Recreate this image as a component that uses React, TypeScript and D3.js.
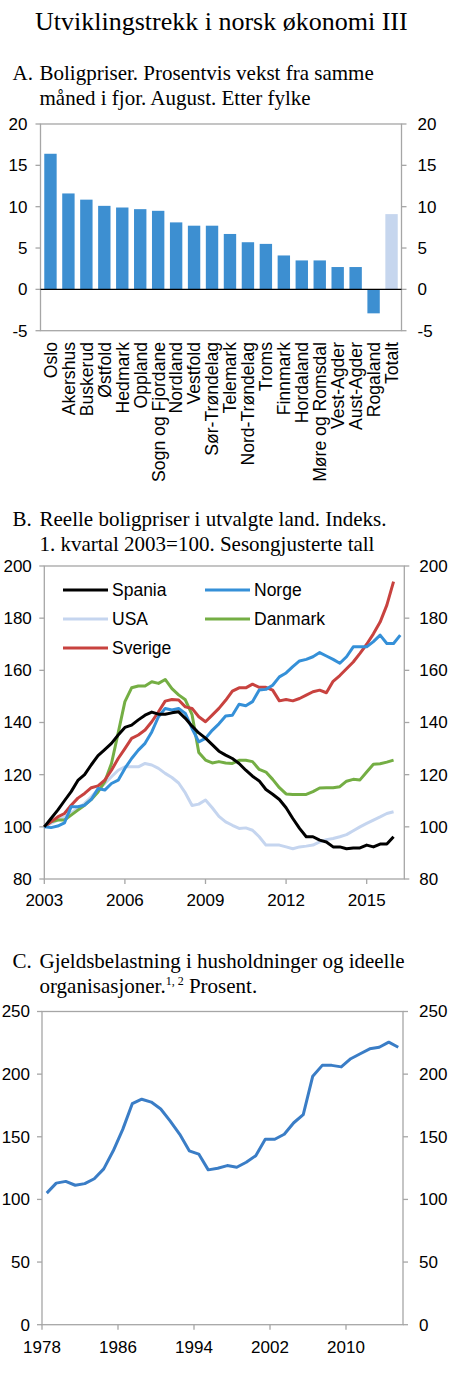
import * as d3 from "d3";

// Panel A: house price growth by county, August
const counties = [
  "Oslo", "Akershus", "Buskerud", "Østfold", "Hedmark", "Oppland", "Sogn og Fjordane",
  "Nordland", "Vestfold", "Sør-Trøndelag", "Telemark", "Nord-Trøndelag", "Troms",
  "Finnmark", "Hordaland", "Møre og Romsdal", "Vest-Agder", "Aust-Agder", "Rogaland", "Totalt",
];
const growth = [16.4, 11.6, 10.85, 10.1, 9.9, 9.7, 9.5, 8.1, 7.7, 7.7, 6.7, 5.7, 5.5, 4.1, 3.5, 3.5, 2.7, 2.7, -2.9, 9.1];
const ticksA = [-5, 0, 5, 10, 15, 20];

// Panel B: real house prices, quarterly from 2003Q1
const spania = [
  100, 103.2, 106.4, 110, 113.5, 117.8, 120, 123.8, 127.3, 129.6, 132, 135.2, 138.1, 139, 141, 142.8,
  144, 143.2, 143.2, 143.7, 144.1, 141.6, 138.6, 136, 134, 131.5, 129, 127.5, 126.2, 124.3, 121.7, 119.4,
  117.6, 114.3, 112.5, 110.5, 107.3, 103.2, 99.4, 96.2, 96.2, 94.9, 94.2, 92.3, 92.3, 91.6, 91.9, 91.9,
  93, 92.3, 93.4, 93.4, 96.2,
];
const norge = [
  100, 99.7, 100.3, 101.5, 107.7, 107.7, 108.3, 110.5, 114.7, 114.1, 116.6, 117.9, 122.4, 126.2, 129.4, 132,
  136.4, 142.2, 145.4, 144.8, 145.4, 143.5, 137.7, 132.6, 133.9, 137, 139.5, 142.5, 142.8, 147, 146.4, 148,
  152.5, 152.7, 154.3, 157.5, 159, 161.4, 163.6, 164.2, 165.2, 166.8, 165.5, 164.2, 162.7, 165.2, 169, 169,
  169, 171, 173.5, 170.3, 170.3, 173.5,
];
const usa = [
  100, 101.3, 102.6, 103.8, 105.3, 107, 109, 111.5, 114.3, 116.6, 119.2, 121.7, 123, 123, 123, 124.3,
  123.7, 122.4, 120.5, 118.9, 116.8, 113, 108.2, 108.7, 110.3, 107.3, 104, 101.9, 100.6, 99.4, 99.6, 98.7,
  96.2, 93, 93, 93, 92.3, 91.6, 92.3, 92.6, 93, 94.2, 95.1, 95.5, 96.2, 97, 98.5, 100,
  101.3, 102.6, 103.8, 105.1, 105.8,
];
const danmark = [
  100, 101.9, 102.6, 102.6, 104.5, 106.4, 108.3, 110.5, 113.4, 117.3, 124.3, 136, 148, 153.3, 154, 154,
  155.6, 155, 156.5, 153, 150.6, 148.7, 143, 128.5, 125.6, 124.5, 125, 124.5, 124.3, 125.5, 125.5, 125,
  122, 121, 118.2, 115, 112.6, 112.4, 112.4, 112.4, 113.5, 114.9, 115, 115, 115.4, 117.5, 118.2, 118,
  121, 124, 124.2, 124.8, 125.6,
];
const sverige = [
  100, 101.9, 103.8, 105.1, 108.3, 111, 112.8, 115, 115.7, 117.9, 121.7, 126.2, 130, 133.9, 135.2, 137.1,
  140.3, 144.1, 148.2, 148.8, 148.6, 146, 145.4, 142.2, 140.3, 142.8, 145.4, 148.5, 152, 153.3, 153.3, 154.7,
  153.5, 153.5, 152.4, 148.3, 148.8, 148.3, 149.2, 150.5, 151.8, 152.4, 151.4, 155.8, 158, 160.6, 163.2, 166.5,
  170, 174, 178.5, 185, 194,
];
const ticksB = [80, 100, 120, 140, 160, 180, 200];
const yearsB = [2003, 2006, 2009, 2012, 2015];

// Panel C: debt burden, annual from 1978
const debt = [
  105, 113, 114.4, 111.3, 112.6, 116.5, 124.4, 138.8, 155.9, 176.4, 180, 177.7, 172.2, 162.5, 152, 138.8,
  136.2, 123.6, 124.9, 127, 125.7, 129.7, 134.9, 148, 148, 152, 161.2, 167.7, 198.4, 207, 207, 205.8,
  212.3, 216.3, 220.2, 221.5, 225.5, 221.5,
];
const ticksC = [0, 50, 100, 150, 200, 250];
const yearsC = [1978, 1986, 1994, 2002, 2010];

const SANS = "'Liberation Sans', Arial, Helvetica, sans-serif";
const SERIF = "'Liberation Serif', 'Times New Roman', serif";
const AXIS = "#a6a6a6";

type Scale = d3.ScaleLinear<number, number>;

function Frame({ x0, x1, y, ticks, leftGap, rightGap }: { x0: number; x1: number; y: Scale; ticks: number[]; leftGap: number; rightGap: number }) {
  const [yb, yt] = y.range();
  return (
    <g>
      <rect x={x0} y={yt} width={x1 - x0} height={yb - yt} fill="none" stroke={AXIS} strokeWidth={1.3} />
      {ticks.map((t) => (
        <g key={t}>
          <line x1={x0 - 5} x2={x0} y1={y(t)} y2={y(t)} stroke={AXIS} strokeWidth={1.3} />
          <line x1={x1} x2={x1 + 5} y1={y(t)} y2={y(t)} stroke={AXIS} strokeWidth={1.3} />
          <text x={x0 - leftGap} y={y(t)} dy="0.35em" textAnchor="end" fontSize={17} fontFamily={SANS}>{t}</text>
          <text x={x1 + rightGap} y={y(t)} dy="0.35em" textAnchor="start" fontSize={17} fontFamily={SANS}>{t}</text>
        </g>
      ))}
    </g>
  );
}

function Heading({ letter, lines, y }: { letter: string; lines: React.ReactNode[]; y: number }) {
  return (
    <g fontFamily={SERIF} fontSize={21}>
      <text x={12.5} y={y}>{letter}</text>
      {lines.map((l, i) => (
        <text key={i} x={39.5} y={y + i * 24.5}>{l}</text>
      ))}
    </g>
  );
}

function PanelA() {
  const x0 = 40.5, x1 = 401.5;
  const x = d3.scaleBand<string>().domain(counties).range([x0, x1]).paddingInner(0.31).paddingOuter(0.21);
  const y = d3.scaleLinear().domain([-5, 20]).range([330.7, 124]);
  return (
    <g>
      {counties.map((c, i) => {
        const v = growth[i];
        return (
          <rect key={c} x={x(c)} width={x.bandwidth()} y={y(Math.max(0, v))} height={Math.abs(y(v) - y(0))}
            fill={c === "Totalt" ? "#c6d6ee" : "#3d8fd1"} />
        );
      })}
      <Frame x0={x0} x1={x1} y={y} ticks={ticksA} leftGap={13} rightGap={16} />
      <line x1={x0} x2={x1} y1={y(0)} y2={y(0)} stroke="#000" strokeWidth={1.3} />
      {counties.map((c) => (
        <text key={c} transform={`translate(${(x(c) ?? 0) + x.bandwidth() / 2},342) rotate(-90)`} dy="0.36em"
          textAnchor="end" fontSize={17.6} fontFamily={SANS}>{c}</text>
      ))}
    </g>
  );
}

const seriesB = [
  { name: "Spania", values: spania, color: "#000000", col: 0, row: 0 },
  { name: "Norge", values: norge, color: "#3590d8", col: 1, row: 0 },
  { name: "USA", values: usa, color: "#c5d5ef", col: 0, row: 1 },
  { name: "Danmark", values: danmark, color: "#74ae44", col: 1, row: 1 },
  { name: "Sverige", values: sverige, color: "#c8423f", col: 0, row: 2 },
];

function PanelB() {
  const x0 = 44.3, x1 = 404.3;
  const x = d3.scaleLinear().domain([2003, 2016.4]).range([x0, x1]);
  const y = d3.scaleLinear().domain([80, 200]).range([879, 566]);
  const line = d3.line<number>().x((_, i) => x(2003 + i / 4)).y((v) => y(v));
  const drawOrder = ["USA", "Danmark", "Sverige", "Norge", "Spania"];
  return (
    <g>
      <Frame x0={x0} x1={x1} y={y} ticks={ticksB} leftGap={12.5} rightGap={15} />
      {yearsB.map((t) => (
        <g key={t}>
          <line x1={x(t)} x2={x(t)} y1={879} y2={884} stroke={AXIS} strokeWidth={1.3} />
          <text x={x(t)} y={906} textAnchor="middle" fontSize={17} fontFamily={SANS}>{t}</text>
        </g>
      ))}
      {drawOrder.map((n) => {
        const s = seriesB.find((d) => d.name === n)!;
        return <path key={n} d={line(s.values) ?? ""} fill="none" stroke={s.color} strokeWidth={3} strokeLinejoin="round" />;
      })}
      {seriesB.map((s) => {
        const lx = s.col === 0 ? 63 : 205;
        const ly = 590 + s.row * 29;
        return (
          <g key={s.name}>
            <line x1={lx} x2={lx + 45} y1={ly} y2={ly} stroke={s.color} strokeWidth={3} />
            <text x={lx + 49} y={ly} dy="0.35em" fontSize={17.5} fontFamily={SANS}>{s.name}</text>
          </g>
        );
      })}
    </g>
  );
}

function PanelC() {
  const x0 = 42, x1 = 403;
  const x = d3.scaleLinear().domain([1978, 2016]).range([x0, x1]);
  const y = d3.scaleLinear().domain([0, 250]).range([1324.7, 1011.5]);
  const line = d3.line<number>().x((_, i) => x(1978 + i + 0.5)).y((v) => y(v));
  return (
    <g>
      <Frame x0={x0} x1={x1} y={y} ticks={ticksC} leftGap={12} rightGap={16} />
      {yearsC.map((t) => (
        <g key={t}>
          <line x1={x(t)} x2={x(t)} y1={1324.7} y2={1329.7} stroke={AXIS} strokeWidth={1.3} />
          <text x={x(t)} y={1353} textAnchor="middle" fontSize={17} fontFamily={SANS}>{t}</text>
        </g>
      ))}
      <path d={line(debt) ?? ""} fill="none" stroke="#3a7dc6" strokeWidth={3} strokeLinejoin="round" />
    </g>
  );
}

export default function App() {
  return (
    <div style={{ position: "absolute", left: 0, top: 0 }}>
      <svg width={450} height={1377} viewBox="0 0 450 1377" style={{ display: "block", background: "#fff" }}>
        <text x={35} y={30} fontFamily={SERIF} fontSize={26}>Utviklingstrekk i norsk økonomi III</text>
        <Heading letter="A." y={80} lines={["Boligpriser. Prosentvis vekst fra samme", "måned i fjor. August. Etter fylke"]} />
        <PanelA />
        <Heading letter="B." y={526} lines={["Reelle boligpriser i utvalgte land. Indeks.", "1. kvartal 2003=100. Sesongjusterte tall"]} />
        <PanelB />
        <Heading letter="C." y={968} lines={[
          "Gjeldsbelastning i husholdninger og ideelle",
          <>organisasjoner.<tspan fontSize={12} dy={-8}>1, 2</tspan><tspan dy={8}> Prosent.</tspan></>,
        ]} />
        <PanelC />
      </svg>
    </div>
  );
}
